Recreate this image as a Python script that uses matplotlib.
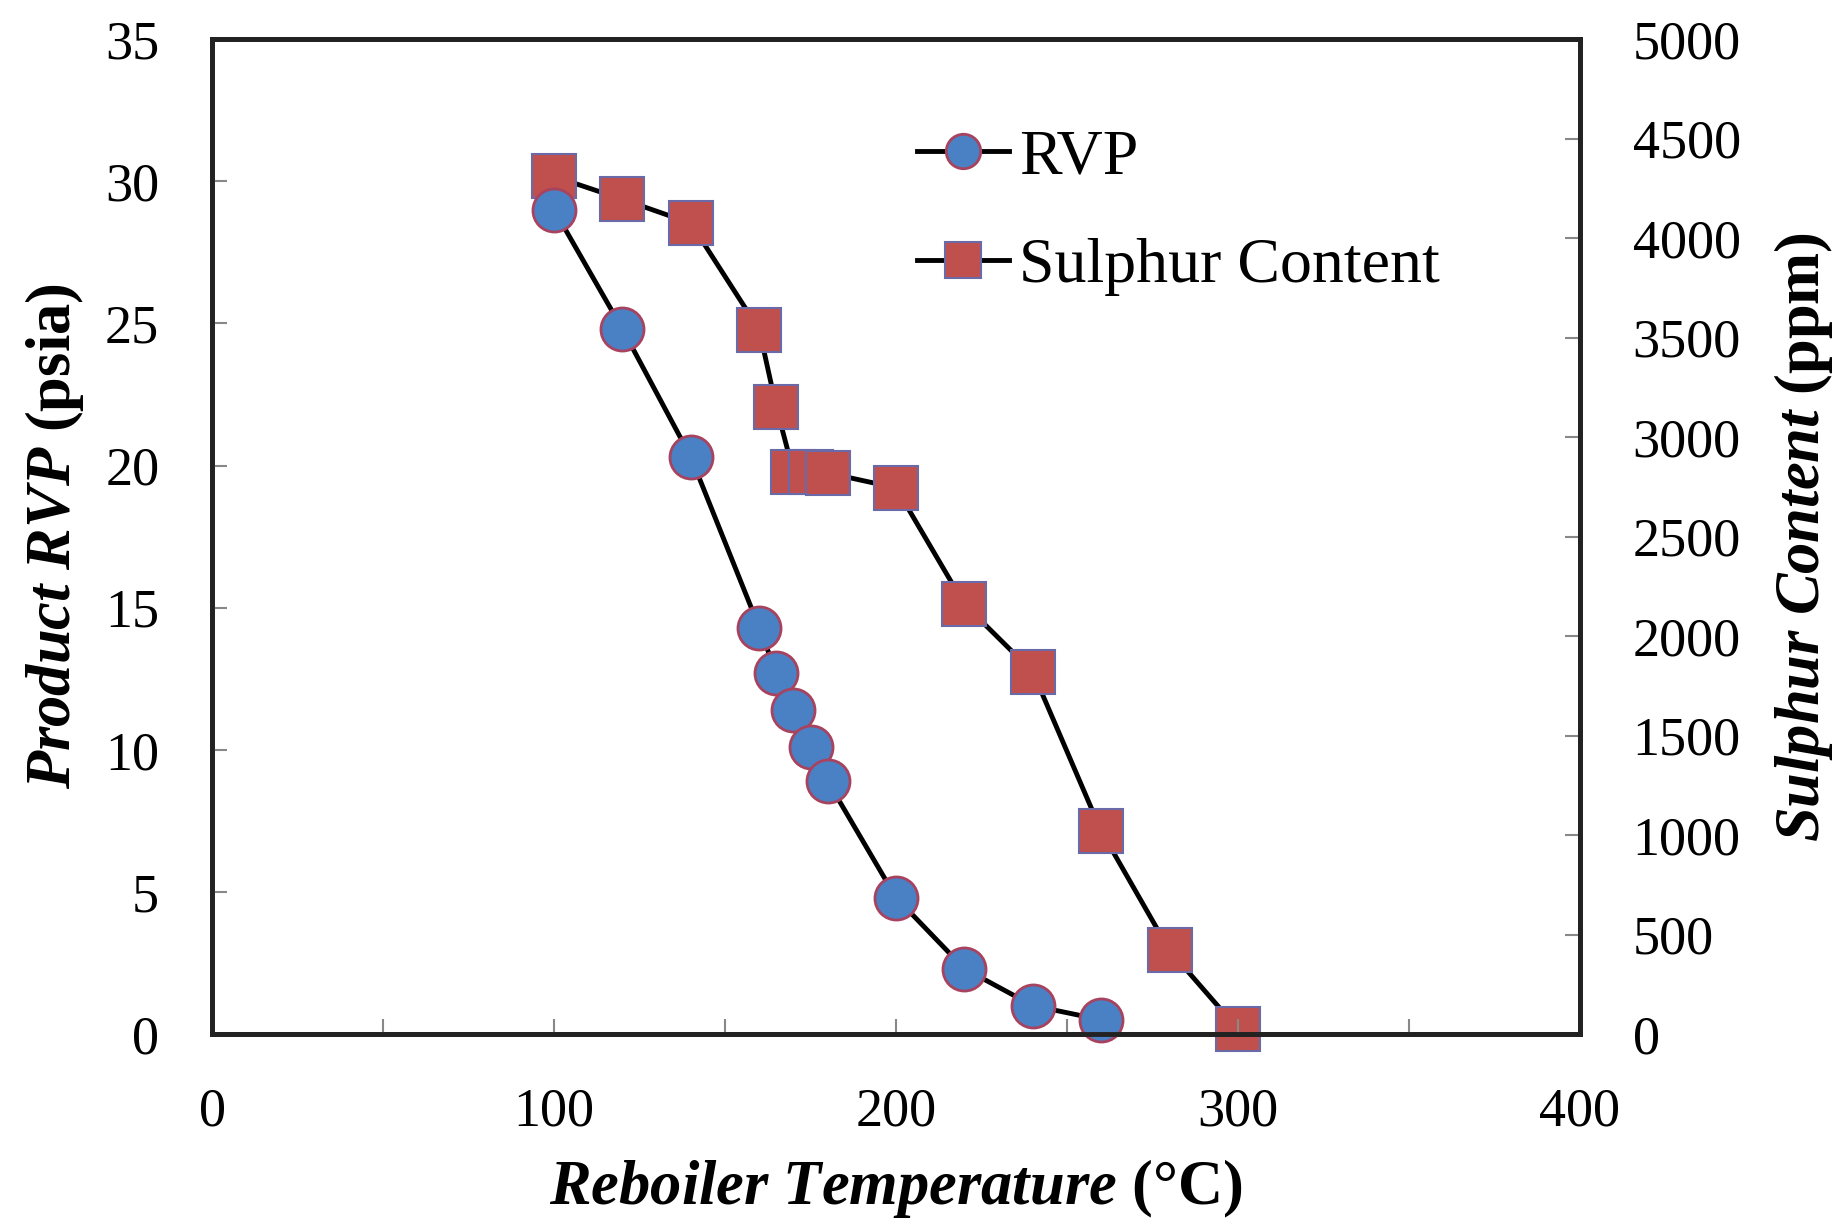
import matplotlib
matplotlib.use("Agg")
import matplotlib.pyplot as plt

# reboiler temperature (C) and product RVP (psia)
rvp_temp = [100, 120, 140, 160, 165, 170, 175, 180, 200, 220, 240, 260]
rvp = [29.0, 24.8, 20.3, 14.3, 12.7, 11.4, 10.1, 8.9, 4.8, 2.3, 1.0, 0.5]

# reboiler temperature (C) and sulphur content (ppm)
sul_temp = [100, 120, 140, 160, 165, 170, 175, 180, 200, 220, 240, 260, 280, 300]
sulphur = [4310, 4195, 4075, 3540, 3150, 2825, 2825, 2820, 2745, 2160, 1820, 1020, 420, 25]

x_ticks = [0, 50, 100, 150, 200, 250, 300, 350, 400]
x_labels = ["0", "", "100", "", "200", "", "300", "", "400"]
rvp_ticks = [0, 5, 10, 15, 20, 25, 30, 35]
sul_ticks = [0, 500, 1000, 1500, 2000, 2500, 3000, 3500, 4000, 4500, 5000]

plt.rcParams["font.family"] = ["Liberation Serif", "DejaVu Serif"]
plt.rcParams["mathtext.fontset"] = "custom"
plt.rcParams["mathtext.rm"] = "Liberation Serif"
plt.rcParams["mathtext.it"] = "Liberation Serif:italic"
plt.rcParams["mathtext.bf"] = "Liberation Serif:bold"
plt.rcParams["mathtext.bfit"] = "Liberation Serif:italic:bold"

fig = plt.figure(figsize=(18.49, 12.23), dpi=100)
ax1 = fig.add_axes([0.1147, 0.1545, 0.7398, 0.8135])
ax2 = ax1.twinx()

l2, = ax2.plot(sul_temp, sulphur, color="black", lw=3.5, marker="s", ms=32,
               mfc="#c0504d", mec="#6a6aa8", mew=1.5, clip_on=False,
               label="Sulphur Content")
l1, = ax1.plot(rvp_temp, rvp, color="black", lw=3.5, marker="o", ms=31,
               mfc="#4a80c4", mec="#a8435f", mew=2, clip_on=False,
               label="RVP")

# keep the circles above the squares
ax1.set_zorder(ax2.get_zorder() + 1)
ax1.patch.set_visible(False)

ax1.set_xlim(0, 400)
ax1.set_ylim(0, 35)
ax2.set_ylim(0, 5000)

ax1.set_xticks(x_ticks)
ax1.set_xticklabels(x_labels)
ax1.set_yticks(rvp_ticks)
ax2.set_yticks(sul_ticks)

for ax in (ax1, ax2):
    ax.tick_params(direction="in", length=11, width=1.5, color="#888888",
                   labelsize=39, pad=38)
    for s in ax.spines.values():
        s.set_linewidth(3.5)
        s.set_color("#222222")

ax1.set_xlabel(r"$\mathbfit{Reboiler\ Temperature}$ (°C)", fontsize=45,
               fontweight="bold", labelpad=14)
ax1.set_ylabel(r"$\mathbfit{Product\ RVP}$ (psia)", fontsize=45,
               fontweight="bold", labelpad=14)
ax2.set_ylabel(r"$\mathbfit{Sulphur\ Content}$ (ppm)", fontsize=45,
               fontweight="bold", labelpad=22)

ax1.legend(handles=[l1, l2], loc="upper left", bbox_to_anchor=(0.515, 0.91),
           frameon=False, fontsize=46, markerscale=0.8, handlelength=1.45,
           handletextpad=0.15, labelspacing=0.78, borderpad=0, borderaxespad=0)

fig.savefig("out.png", dpi=100)
